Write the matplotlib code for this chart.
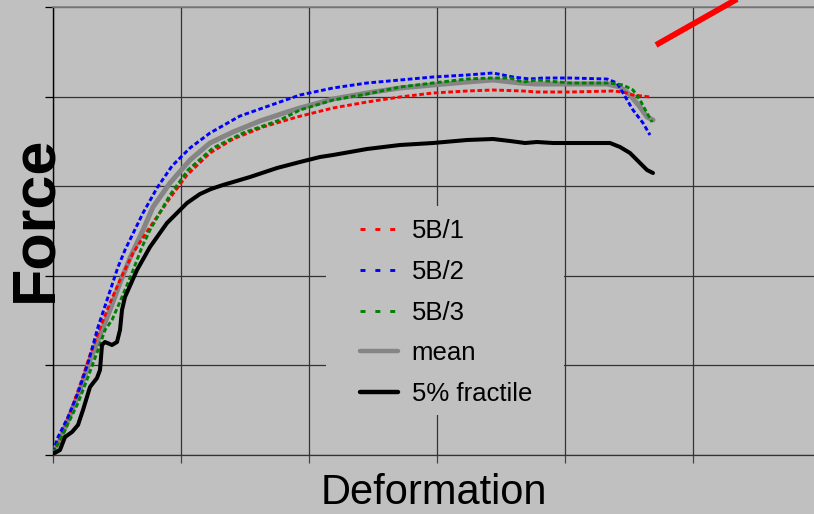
import matplotlib
matplotlib.use("Agg")
import matplotlib.pyplot as plt
import numpy as np
from matplotlib.lines import Line2D
from matplotlib.patches import Rectangle

plt.rcParams['font.family'] = ['Liberation Sans', 'DejaVu Sans']

# Curves (arbitrary units: x grid = 128, y grid = 89.6)
b1_x = [0, 7, 17, 27, 37, 47, 57, 67, 80, 97, 117, 134, 157, 180, 210, 244, 260, 280,
        314, 347, 380, 414, 440, 470, 484, 517, 560, 570, 580, 597]
b1_y = [2, 16, 42, 70, 100, 127, 152, 175, 202, 228, 257, 280, 302, 316, 328, 338, 342, 347,
        353, 358, 362, 364, 365, 364, 363, 363, 364, 363, 360, 358]

b2_x = [0, 5, 15, 25, 35, 45, 55, 65, 72, 90, 104, 119, 137, 157, 187, 224, 247, 280,
        314, 347, 380, 414, 440, 460, 477, 490, 517, 554, 564, 570, 580, 590, 597]
b2_y = [3, 18, 38, 62, 92, 128, 158, 188, 205, 242, 267, 289, 307, 322, 339, 352, 360, 367,
        372, 375, 378, 380, 382, 378, 376, 377, 377, 376, 372, 362, 345, 332, 320]

b3_x = [0, 12, 25, 35, 45, 52, 59, 69, 79, 89, 97, 117, 135, 160, 190, 227, 247, 280,
        314, 347, 380, 414, 437, 457, 470, 484, 517, 557, 570, 580, 587, 594, 599]
b3_y = [2, 25, 52, 78, 105, 125, 135, 158, 182, 208, 225, 260, 285, 307, 322, 335, 345, 355,
        361, 368, 372, 376, 377, 377, 373, 375, 372, 372, 370, 365, 355, 342, 333]

mean_x = [0, 7, 17, 27, 37, 47, 57, 67, 77, 90, 100, 117, 137, 157, 180, 207, 234, 247,
          280, 314, 347, 380, 414, 440, 467, 484, 517, 554, 567, 577, 587, 594, 600]
mean_y = [3, 15, 40, 65, 95, 120, 145, 172, 197, 225, 248, 272, 295, 312, 323, 334, 343, 347,
          356, 362, 367, 370, 373, 375, 372, 371, 371, 371, 368, 360, 348, 338, 335]

frac_x = [0, 7, 12, 19, 25, 30, 37, 44, 47, 49, 52, 59, 64, 67, 69, 72, 84, 97, 114, 134,
          147, 158, 170, 197, 224, 247, 267, 280, 314, 347, 380, 414, 440, 457, 472, 484, 500,
          517, 557, 567, 577, 587, 594, 600]
frac_y = [1, 5, 18, 23, 30, 45, 68, 77, 85, 110, 113, 110, 113, 125, 145, 158, 185, 208, 232,
          252, 261, 266, 270, 278, 287, 293, 298, 300, 306, 310, 312, 315, 316, 314, 312, 313,
          312, 312, 312, 308, 302, 292, 285, 282]

# stray red stroke in the upper right
stroke_x = [603, 700]
stroke_y = [410, 465]

labels = ['5B/1', '5B/2', '5B/3', 'mean', '5% fractile']

bg = '#C0C0C0'
fig = plt.figure(figsize=(8.14, 5.14), dpi=100, facecolor=bg)
ax = fig.add_axes([53 / 814, 59 / 514, 768 / 814, 448 / 514], facecolor=bg)

dash = (1.6, 0.9)
ax.plot(mean_x, mean_y, color='#858585', lw=3.6, solid_capstyle='round', zorder=3)
ax.plot(b1_x, b1_y, color='#FF0000', lw=2.1, dashes=dash, zorder=4)
ax.plot(b2_x, b2_y, color='#0000FF', lw=2.1, dashes=dash, zorder=4)
ax.plot(b3_x, b3_y, color='#008000', lw=2.1, dashes=dash, zorder=4)
ax.plot(frac_x, frac_y, color='black', lw=2.9, solid_capstyle='round', zorder=5)
ax.plot(stroke_x, stroke_y, color='#FF0000', lw=4.2, solid_capstyle='butt', clip_on=False, zorder=6)

ax.set_xlim(0, 768)
ax.set_ylim(0, 448)
ax.set_xticks(np.arange(7) * 128)
ax.set_yticks(np.arange(6) * 89.6)
ax.set_xticklabels([])
ax.set_yticklabels([])
ax.grid(True, color='#333333', lw=0.9)
ax.set_axisbelow(True)
ax.tick_params(axis='y', length=6, width=0.9, color='black', direction='out')
ax.tick_params(axis='x', length=6, width=0.9, color='#444444', direction='out')
ax.spines['left'].set_color('black')
ax.spines['left'].set_linewidth(1.0)
ax.spines['bottom'].set_color('#333333')
ax.spines['bottom'].set_linewidth(0.9)
ax.spines['top'].set_color('#808080')
ax.spines['top'].set_linewidth(1.2)
ax.spines['right'].set_visible(False)

# legend box background that hides the grid behind it
ax.add_patch(Rectangle((326 / 814, 1 - 415 / 514), 238 / 814, 209 / 514,
                       transform=fig.transFigure, facecolor=bg, edgecolor='none', zorder=1))

# legend handles (styling only)
lw_dash = (1.7, 3.4)
handles = [
    Line2D([], [], color='#FF0000', lw=2.1, dashes=lw_dash),
    Line2D([], [], color='#0000FF', lw=2.1, dashes=lw_dash),
    Line2D([], [], color='#008000', lw=2.1, dashes=lw_dash),
    Line2D([], [], color='#858585', lw=3.2, solid_capstyle='round'),
    Line2D([], [], color='black', lw=3.2, solid_capstyle='round'),
]
leg = ax.legend(handles, labels, loc='upper left',
                bbox_to_anchor=(350 / 814, 1 - 209 / 514), bbox_transform=fig.transFigure,
                fontsize=18.5, frameon=False, borderpad=0.4, borderaxespad=0,
                handlelength=1.45, handletextpad=0.55, labelspacing=0.65)
leg.set_zorder(7)

fig.text(64 / 814, 1 - 219 / 514, 'Force', rotation=90, ha='right', va='center',
         fontsize=44, fontweight='bold', color='black')
fig.text(434 / 814, 1.5 / 514, 'Deformation', ha='center', va='bottom',
         fontsize=30, color='black')

fig.savefig('out.png', dpi=100, facecolor=bg)
